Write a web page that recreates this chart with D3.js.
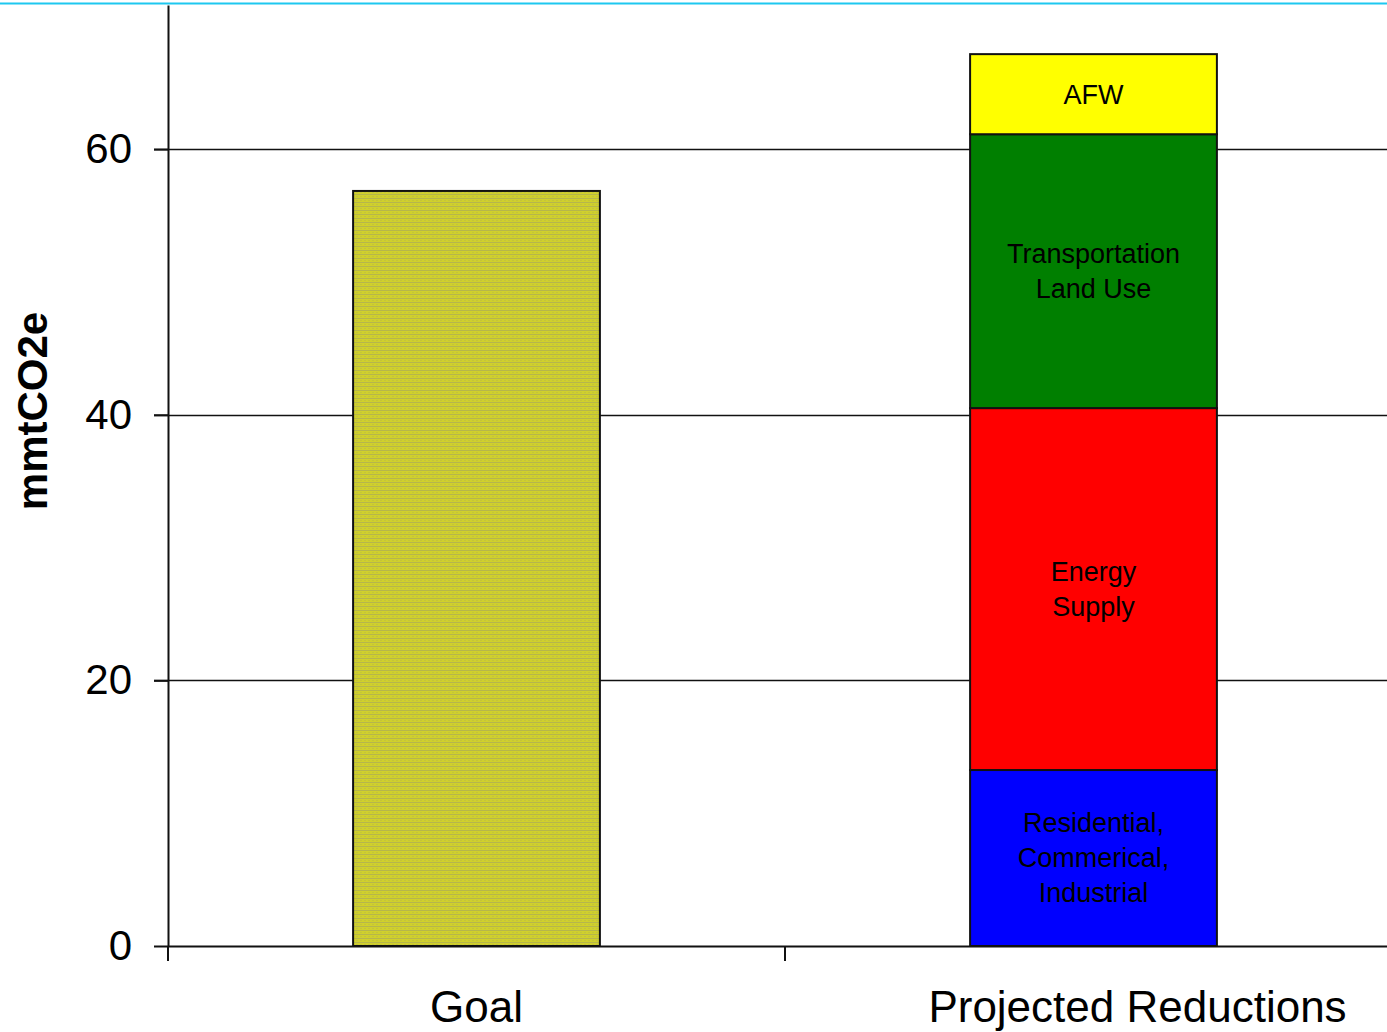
<!DOCTYPE html>
<html>
<head>
<meta charset="utf-8">
<script src="https://cdn.jsdelivr.net/npm/d3@7"></script>
<style>
  html, body { margin: 0; padding: 0; background: #fff; }
  svg { display: block; font-family: "Liberation Sans", Arial, sans-serif; }
</style>
</head>
<body>
<svg id="chart" width="1387" height="1032"></svg>
<script>
// Categories on the x axis
const categories = ["Goal", "Projected Reductions"];

// Reduction goal (mmtCO2e)
const goalValue = 56.85;

// Projected reductions by sector, stacked bottom to top (mmtCO2e)
const sectorNames = ["Residential, Commerical, Industrial", "Energy Supply", "Transportation Land Use", "AFW"];
const sectorLabelLines = [["Residential,", "Commerical,", "Industrial"], ["Energy", "Supply"], ["Transportation", "Land Use"], ["AFW"]];
const sectorValues = [13.25, 27.25, 20.62, 6.03];
const sectorColors = ["#0000ff", "#ff0000", "#007f00", "#ffff00"];

// Y axis ticks
const yTicks = [0, 20, 40, 60];
const yLabel = "mmtCO2e";

(function draw() {
  const svg = d3.select("#chart");
  const W = 1387;
  const plotLeft = 168, plotRight = 1402, plotTop = 5, plotBottom = 946;

  const x = d3.scaleBand().domain(categories).range([plotLeft, plotRight]).paddingInner(0).paddingOuter(0);
  const y = d3.scaleLinear().domain([0, 70.85]).range([plotBottom, plotTop]);
  const barW = x.bandwidth() * 0.4;

  // Striped fill for the goal bar
  const defs = svg.append("defs");
  const pat = defs.append("pattern").attr("id", "goalFill")
    .attr("patternUnits", "userSpaceOnUse").attr("width", 4).attr("height", 4);
  pat.append("rect").attr("width", 4).attr("height", 4).attr("fill", "#d0d02c");
  pat.append("rect").attr("y", 2).attr("width", 4).attr("height", 1).attr("fill", "#b6b64c");
  pat.append("rect").attr("x", 0).attr("y", 0).attr("width", 2).attr("height", 1).attr("fill", "#c4c43a");

  // Cyan rule across the top
  svg.append("rect").attr("x", 0).attr("y", 2.5).attr("width", W).attr("height", 2).attr("fill", "#1ec8f0");

  // Horizontal gridlines
  svg.append("g").selectAll("line").data(yTicks.filter(d => d > 0)).join("line")
    .attr("x1", plotLeft - 14).attr("x2", W)
    .attr("y1", d => Math.round(y(d)) + 0.5).attr("y2", d => Math.round(y(d)) + 0.5)
    .attr("stroke", "#111").attr("stroke-width", 1.5);

  // Goal bar
  svg.append("rect")
    .attr("x", x("Goal") + (x.bandwidth() - barW) / 2)
    .attr("y", y(goalValue))
    .attr("width", barW)
    .attr("height", y(0) - y(goalValue))
    .attr("fill", "url(#goalFill)")
    .attr("stroke", "#111").attr("stroke-width", 2);

  // Stacked sector bars
  let cum = 0;
  const stacks = sectorValues.map((v, i) => {
    const s = { name: sectorNames[i], lines: sectorLabelLines[i], y0: cum, y1: cum + v, color: sectorColors[i] };
    cum += v;
    return s;
  });
  const px = x("Projected Reductions") + (x.bandwidth() - barW) / 2;
  const seg = svg.append("g").selectAll("g").data(stacks).join("g");
  seg.append("rect")
    .attr("x", px).attr("width", barW)
    .attr("y", d => y(d.y1)).attr("height", d => y(d.y0) - y(d.y1))
    .attr("fill", d => d.color)
    .attr("stroke", "#111").attr("stroke-width", 2);
  seg.each(function(d) {
    const cy = (y(d.y0) + y(d.y1)) / 2;
    const lh = 35;
    const n = d.lines.length;
    d3.select(this).selectAll("text").data(d.lines).join("text")
      .attr("x", px + barW / 2)
      .attr("y", (t, j) => cy + (j - (n - 1) / 2) * lh)
      .attr("dy", "0.35em")
      .attr("text-anchor", "middle")
      .attr("font-size", 27)
      .attr("fill", "#000")
      .text(t => t);
  });

  // Y axis
  const yAxis = svg.append("g").attr("transform", `translate(${plotLeft},0)`)
    .call(d3.axisLeft(y).tickValues(yTicks).tickSize(14).tickSizeOuter(0).tickPadding(22).tickFormat(d3.format("d")));
  yAxis.select(".domain").attr("stroke", "#111").attr("stroke-width", 2);
  yAxis.selectAll(".tick line").attr("stroke", "#111").attr("stroke-width", 2);
  yAxis.selectAll(".tick text").attr("font-size", 42).attr("fill", "#000")
    .attr("font-family", "Liberation Sans, Arial, sans-serif");

  // X axis
  const xAxis = svg.append("g").attr("transform", `translate(0,${plotBottom})`)
    .call(d3.axisBottom(x).tickSize(0).tickSizeOuter(0).tickFormat(""));
  xAxis.select(".domain").attr("stroke", "#111").attr("stroke-width", 2);
  xAxis.selectAll(".tick").remove();
  // Category separators below the axis
  const seps = [plotLeft, x("Projected Reductions"), plotRight];
  svg.append("g").selectAll("line").data(seps).join("line")
    .attr("x1", d => d).attr("x2", d => d)
    .attr("y1", plotBottom).attr("y2", plotBottom + 15)
    .attr("stroke", "#111").attr("stroke-width", 2);
  // Category labels (the last one is nudged right of its band centre)
  const labelShift = [0, 44];
  svg.append("g").selectAll("text").data(categories).join("text")
    .attr("x", (d, i) => x(d) + x.bandwidth() / 2 + labelShift[i])
    .attr("y", 1022)
    .attr("text-anchor", "middle")
    .attr("font-size", 44)
    .attr("fill", "#000")
    .text(d => d);

  // Y axis title
  svg.append("text")
    .attr("transform", `translate(47,${(312 + 510) / 2}) rotate(-90)`)
    .attr("text-anchor", "middle")
    .attr("font-size", 42)
    .attr("font-weight", "bold")
    .attr("fill", "#000")
    .text(yLabel);
})();
</script>
</body>
</html>
